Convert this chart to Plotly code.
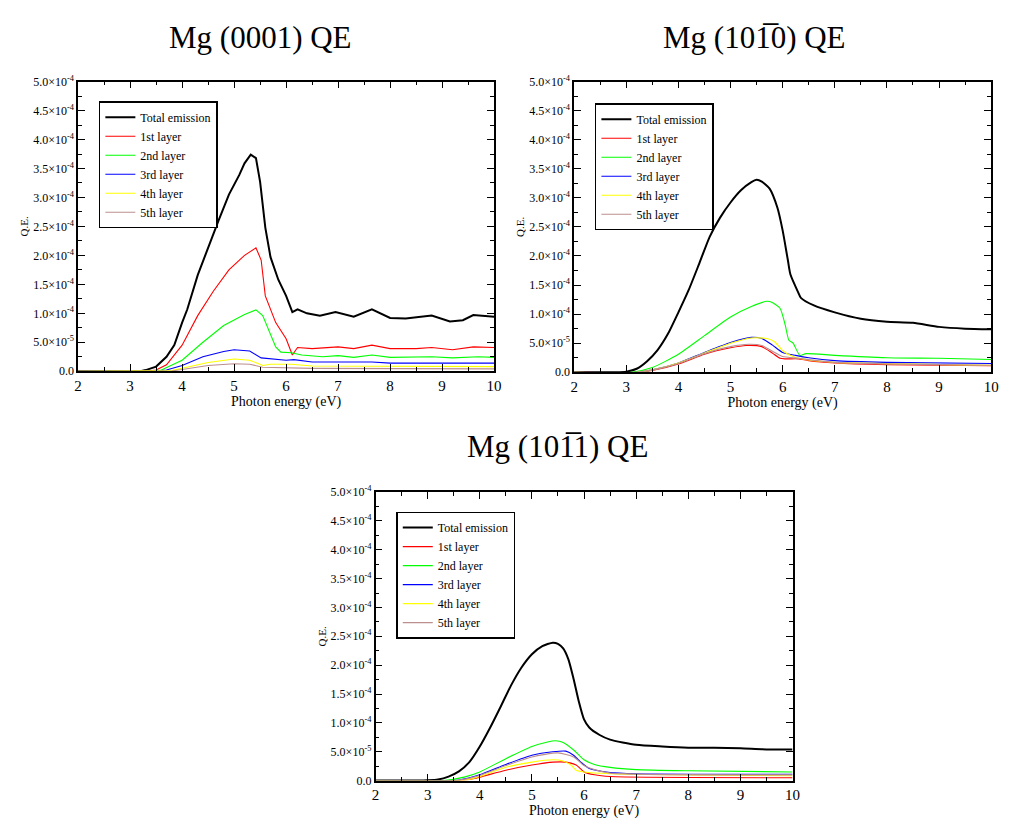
import plotly.graph_objects as go

W, H = 1010, 820

# ---------------- data ----------------
series_names = ["Total emission", "1st layer", "2nd layer", "3rd layer", "4th layer", "5th layer"]
series_colors = ["#000000", "#ff0000", "#00ff00", "#0000ff", "#ffff00", "#bc8f8f"]

y_tickvals = [0, 5e-5, 1e-4, 1.5e-4, 2e-4, 2.5e-4, 3e-4, 3.5e-4, 4e-4, 4.5e-4, 5e-4]
y_ticktext = ["0.0", "5.0×10<sup>-5</sup>", "1.0×10<sup>-4</sup>", "1.5×10<sup>-4</sup>",
              "2.0×10<sup>-4</sup>", "2.5×10<sup>-4</sup>", "3.0×10<sup>-4</sup>",
              "3.5×10<sup>-4</sup>", "4.0×10<sup>-4</sup>", "4.5×10<sup>-4</sup>",
              "5.0×10<sup>-4</sup>"]
x_tickvals = [2, 3, 4, 5, 6, 7, 8, 9, 10]

# --- Mg (0001) ---
E_0001_total = [2.0, 3.2, 3.3, 3.5, 3.7, 3.85, 4.0, 4.1, 4.3, 4.5, 4.7, 4.9, 5.1, 5.2, 5.32, 5.42, 5.5, 5.6,
                5.7, 5.85, 6.0, 6.12, 6.22, 6.4, 6.65, 6.95, 7.3, 7.65, 8.0, 8.3, 8.8, 9.15, 9.4, 9.6, 10.0]
QE_0001_total = [0, 0, 0.2e-5, 0.8e-5, 2.5e-5, 4.5e-5, 8.4e-5, 1.07e-4, 1.66e-4, 2.14e-4, 2.6e-4, 3.05e-4,
                 3.39e-4, 3.59e-4, 3.74e-4, 3.68e-4, 3.27e-4, 2.48e-4, 1.97e-4, 1.58e-4, 1.30e-4, 1.02e-4,
                 1.07e-4, 1.0e-4, 0.96e-4, 1.02e-4, 0.94e-4, 1.07e-4, 0.92e-4, 0.91e-4, 0.96e-4, 0.86e-4,
                 0.88e-4, 0.97e-4, 0.94e-4]
E_0001_l1 = [2.0, 3.3, 3.5, 3.7, 4.0, 4.3, 4.6, 4.9, 5.2, 5.42, 5.52, 5.6, 5.8, 6.0, 6.12, 6.22, 6.5, 7.0,
             7.3, 7.65, 8.0, 8.5, 8.8, 9.2, 9.6, 10.0]
QE_0001_l1 = [0, 0, 0.2e-5, 1.1e-5, 4.5e-5, 9.6e-5, 1.38e-4, 1.75e-4, 2.0e-4, 2.13e-4, 1.92e-4, 1.30e-4,
              8.4e-5, 5.6e-5, 2.8e-5, 4.1e-5, 3.9e-5, 4.2e-5, 3.9e-5, 4.5e-5, 3.9e-5, 3.9e-5, 4.1e-5,
              3.7e-5, 4.2e-5, 4.1e-5]
E_0001_l2 = [2.0, 3.4, 3.6, 4.0, 4.4, 4.8, 5.2, 5.42, 5.55, 5.7, 5.8, 5.9, 6.1, 6.3, 6.7, 7.0, 7.3, 7.65,
             8.0, 8.8, 9.2, 9.7, 10.0]
QE_0001_l2 = [0, 0, 0.2e-5, 1.9e-5, 5.0e-5, 7.9e-5, 9.8e-5, 1.06e-4, 9.6e-5, 6.2e-5, 4.2e-5, 3.3e-5,
              3.2e-5, 2.8e-5, 2.5e-5, 2.7e-5, 2.4e-5, 2.8e-5, 2.4e-5, 2.5e-5, 2.3e-5, 2.5e-5, 2.4e-5]
E_0001_l3 = [2.0, 3.5, 3.7, 4.0, 4.4, 4.8, 5.0, 5.3, 5.52, 5.8, 6.0, 6.15, 6.5, 7.0, 7.65, 8.0, 10.0]
QE_0001_l3 = [0, 0, 0.2e-5, 1.0e-5, 2.5e-5, 3.4e-5, 3.7e-5, 3.5e-5, 2.3e-5, 2.1e-5, 1.9e-5, 2.0e-5,
              1.6e-5, 1.6e-5, 1.6e-5, 1.4e-5, 1.4e-5]
E_0001_l4 = [2.0, 3.6, 3.8, 4.0, 4.5, 5.0, 5.3, 5.55, 5.7, 6.1, 6.5, 10.0]
QE_0001_l4 = [0, 0, 0.1e-5, 0.5e-5, 1.5e-5, 2.1e-5, 1.9e-5, 1.0e-5, 1.2e-5, 1.2e-5, 0.9e-5, 0.8e-5]
E_0001_l5 = [2.0, 3.6, 3.8, 4.0, 4.5, 5.0, 5.3, 5.55, 6.0, 6.5, 10.0]
QE_0001_l5 = [0, 0, 0.05e-5, 0.3e-5, 1.0e-5, 1.3e-5, 1.2e-5, 0.7e-5, 0.6e-5, 0.5e-5, 0.4e-5]

# --- Mg (10-10) ---
E_1010_total = [2.0, 2.8, 3.0, 3.2, 3.4, 3.6, 3.8, 4.0, 4.2, 4.4, 4.6, 4.8, 5.0, 5.2, 5.4, 5.5, 5.6, 5.75,
                5.9, 6.0, 6.1, 6.15, 6.3, 6.35, 6.6, 7.0, 7.5, 8.0, 8.5, 9.0, 9.5, 10.0]
QE_1010_total = [0, 0, 0.1e-5, 0.6e-5, 1.9e-5, 3.8e-5, 6.6e-5, 1.03e-4, 1.42e-4, 1.87e-4, 2.33e-4,
                 2.66e-4, 2.92e-4, 3.13e-4, 3.27e-4, 3.31e-4, 3.28e-4, 3.16e-4, 2.83e-4, 2.44e-4,
                 1.93e-4, 1.68e-4, 1.37e-4, 1.28e-4, 1.15e-4, 1.03e-4, 0.92e-4, 0.87e-4, 0.85e-4,
                 0.78e-4, 0.75e-4, 0.74e-4]
E_1010_l1 = [2.0, 3.2, 3.5, 4.0, 4.5, 5.0, 5.3, 5.6, 5.8, 5.95, 6.05, 6.3, 6.5, 7.0, 8.0, 10.0]
QE_1010_l1 = [0, 0, 0.3e-5, 1.4e-5, 3.1e-5, 4.2e-5, 4.6e-5, 4.4e-5, 3.3e-5, 2.4e-5, 2.3e-5, 2.3e-5,
              2.0e-5, 1.6e-5, 1.3e-5, 1.1e-5]
E_1010_l2 = [2.0, 3.1, 3.5, 4.0, 4.5, 5.0, 5.4, 5.7, 5.8, 5.95, 6.05, 6.12, 6.2, 6.33, 6.45, 7.0, 8.0,
             9.0, 10.0]
QE_1010_l2 = [0, 0, 0.8e-5, 3.1e-5, 6.3e-5, 9.5e-5, 1.13e-4, 1.22e-4, 1.20e-4, 1.10e-4, 8.1e-5, 5.5e-5,
              5.0e-5, 2.9e-5, 3.2e-5, 2.9e-5, 2.5e-5, 2.4e-5, 2.2e-5]
E_1010_l3 = [2.0, 3.2, 3.5, 4.0, 4.5, 5.0, 5.4, 5.6, 5.8, 6.0, 6.25, 6.5, 7.0, 8.0, 10.0]
QE_1010_l3 = [0, 0, 0.4e-5, 1.6e-5, 3.4e-5, 5.1e-5, 6.0e-5, 5.8e-5, 4.7e-5, 3.4e-5, 2.9e-5, 2.5e-5,
              2.0e-5, 1.7e-5, 1.5e-5]
E_1010_l4 = [2.0, 3.2, 3.5, 4.0, 4.5, 5.0, 5.4, 5.7, 5.85, 6.0, 6.2, 6.5, 7.0, 10.0]
QE_1010_l4 = [0, 0, 0.4e-5, 1.6e-5, 3.3e-5, 5.0e-5, 5.9e-5, 5.8e-5, 5.2e-5, 3.7e-5, 2.7e-5, 2.1e-5,
              1.7e-5, 1.2e-5]
E_1010_l5 = [2.0, 3.2, 3.5, 4.0, 4.5, 5.0, 5.35, 5.6, 5.85, 6.0, 6.3, 7.0, 10.0]
QE_1010_l5 = [0, 0, 0.4e-5, 1.5e-5, 3.2e-5, 4.4e-5, 4.8e-5, 4.6e-5, 3.4e-5, 2.7e-5, 2.4e-5, 1.7e-5, 1.2e-5]

# --- Mg (10-11) ---
E_1011_total = [2.0, 2.8, 3.0, 3.2, 3.4, 3.6, 3.8, 4.0, 4.2, 4.4, 4.6, 4.8, 5.0, 5.2, 5.4, 5.5, 5.6, 5.7,
                5.8, 5.9, 6.0, 6.1, 6.3, 6.5, 7.0, 7.5, 8.0, 8.5, 9.0, 9.5, 10.0]
QE_1011_total = [0, 0, 0.05e-5, 0.2e-5, 0.7e-5, 1.6e-5, 3.2e-5, 5.9e-5, 9.2e-5, 1.28e-4, 1.65e-4,
                 1.96e-4, 2.19e-4, 2.33e-4, 2.39e-4, 2.37e-4, 2.29e-4, 2.10e-4, 1.76e-4, 1.37e-4,
                 1.06e-4, 9.2e-5, 7.9e-5, 7.1e-5, 6.2e-5, 5.9e-5, 5.7e-5, 5.7e-5, 5.6e-5, 5.4e-5, 5.4e-5]
E_1011_l1 = [2.0, 3.5, 3.8, 4.0, 4.5, 5.0, 5.4, 5.65, 5.85, 6.0, 6.2, 6.5, 10.0]
QE_1011_l1 = [0, 0, 0.2e-5, 0.6e-5, 1.8e-5, 2.7e-5, 3.2e-5, 3.2e-5, 2.7e-5, 1.5e-5, 1.0e-5, 0.7e-5, 0.5e-5]
E_1011_l2 = [2.0, 3.3, 3.7, 4.0, 4.5, 5.0, 5.3, 5.45, 5.6, 5.8, 6.0, 6.2, 6.5, 7.0, 8.0, 10.0]
QE_1011_l2 = [0, 0, 0.6e-5, 1.5e-5, 3.8e-5, 5.9e-5, 6.7e-5, 6.9e-5, 6.6e-5, 5.3e-5, 3.6e-5, 2.8e-5,
              2.3e-5, 1.9e-5, 1.7e-5, 1.5e-5]
E_1011_l3 = [2.0, 3.4, 3.6, 4.0, 4.5, 5.0, 5.4, 5.65, 5.8, 5.95, 6.1, 6.5, 7.0, 10.0]
QE_1011_l3 = [0, 0, 0.1e-5, 1.0e-5, 2.8e-5, 4.4e-5, 5.0e-5, 5.1e-5, 4.4e-5, 3.1e-5, 2.1e-5, 1.4e-5,
              1.2e-5, 1.1e-5]
E_1011_l4 = [2.0, 3.5, 3.8, 4.0, 4.5, 5.0, 5.4, 5.6, 5.75, 5.85, 6.0, 6.5, 10.0]
QE_1011_l4 = [0, 0, 0.2e-5, 0.7e-5, 2.3e-5, 3.2e-5, 3.6e-5, 3.4e-5, 2.7e-5, 1.8e-5, 1.5e-5, 1.2e-5, 0.85e-5]
E_1011_l5 = [2.0, 3.4, 3.6, 4.0, 4.5, 5.0, 5.5, 5.8, 6.0, 6.2, 6.5, 10.0]
QE_1011_l5 = [0, 0, 0.1e-5, 0.9e-5, 2.6e-5, 4.1e-5, 4.8e-5, 4.1e-5, 2.6e-5, 1.9e-5, 1.3e-5, 1.0e-5]

panel_titles = ["Mg (0001) QE", "Mg (101\u03050) QE", "Mg (101\u03051) QE"]

panels = [
    [(E_0001_total, QE_0001_total), (E_0001_l1, QE_0001_l1), (E_0001_l2, QE_0001_l2),
     (E_0001_l3, QE_0001_l3), (E_0001_l4, QE_0001_l4), (E_0001_l5, QE_0001_l5)],
    [(E_1010_total, QE_1010_total), (E_1010_l1, QE_1010_l1), (E_1010_l2, QE_1010_l2),
     (E_1010_l3, QE_1010_l3), (E_1010_l4, QE_1010_l4), (E_1010_l5, QE_1010_l5)],
    [(E_1011_total, QE_1011_total), (E_1011_l1, QE_1011_l1), (E_1011_l2, QE_1011_l2),
     (E_1011_l3, QE_1011_l3), (E_1011_l4, QE_1011_l4), (E_1011_l5, QE_1011_l5)],
]

# ---------------- layout geometry (pixels) ----------------
boxes = [(75, 496, 75, 370), (577, 999, 75, 371), (376, 798, 493, 787)]   # x0, x1, ytop, ybottom
legend_pos = [(96, 95), (598, 97), (397, 513)]
title_pos = [(260, 30), (760, 30), (560, 447)]
FONT = "Liberation Serif, Times New Roman, serif"

fig = go.Figure()
for p, series in enumerate(panels):
    sfx = "" if p == 0 else str(p + 1)
    for i in range(6):
        ex, qe = series[i]
        fig.add_trace(go.Scatter(
            x=ex, y=qe, mode="lines", name=series_names[i],
            line=dict(color=series_colors[i], width=2 if i == 0 else 1.1,
                      shape="linear" if p == 0 else "spline", smoothing=0.6),
            xaxis="x" + sfx, yaxis="y" + sfx,
            legend="legend" + sfx,
        ))

layout = dict(
    width=W, height=H, margin=dict(l=0, r=0, t=0, b=0),
    paper_bgcolor="white", plot_bgcolor="white",
    font=dict(family=FONT, color="black"),
    showlegend=True,
)
annotations = []
for p in range(3):
    sfx = "" if p == 0 else str(p + 1)
    x0, x1, yt, yb = boxes[p]
    layout["xaxis" + sfx] = dict(
        domain=[x0 / W, x1 / W], anchor="y" + sfx, range=[2, 10],
        tickvals=x_tickvals, ticks="inside", ticklen=7, tickwidth=1, tickcolor="black",
        minor=dict(ticks="inside", ticklen=4, dtick=0.5, tickcolor="black", tickwidth=1),
        showline=True, linecolor="black", linewidth=1.5, mirror="allticks",
        showgrid=False, zeroline=False,
        tickfont=dict(family=FONT, size=15, color="black"),
        title=dict(text="Photon energy (eV)", font=dict(family=FONT, size=14, color="black"), standoff=0),
    )
    layout["yaxis" + sfx] = dict(
        domain=[1 - yb / H, 1 - yt / H], anchor="x" + sfx, range=[0, 5e-4],
        tickvals=y_tickvals, ticktext=y_ticktext, ticks="inside", ticklen=7, tickwidth=1,
        tickcolor="black",
        minor=dict(ticks="inside", ticklen=4, dtick=2.5e-5, tickcolor="black", tickwidth=1),
        showline=True, linecolor="black", linewidth=1.5, mirror="allticks",
        showgrid=False, zeroline=False,
        tickfont=dict(family=FONT, size=12, color="black"),
        title=dict(text="Q.E.", font=dict(family=FONT, size=11, color="black"), standoff=2),
    )
    lx, ly = legend_pos[p]
    layout["legend" + sfx] = dict(
        x=lx / W, y=1 - ly / H, xanchor="left", yanchor="top", xref="paper", yref="paper",
        bgcolor="white", bordercolor="black", borderwidth=1.5,
        font=dict(family=FONT, size=12, color="black"), itemwidth=30,
        tracegroupgap=0,
    )
    tx, ty = title_pos[p]
    annotations.append(dict(
        text=panel_titles[p], x=tx / W, y=1 - ty / H, xref="paper", yref="paper",
        showarrow=False, xanchor="center", yanchor="middle",
        font=dict(family=FONT, size=31, color="black"),
    ))
layout["annotations"] = annotations
fig.update_layout(**layout)

fig.write_html("out.html")
